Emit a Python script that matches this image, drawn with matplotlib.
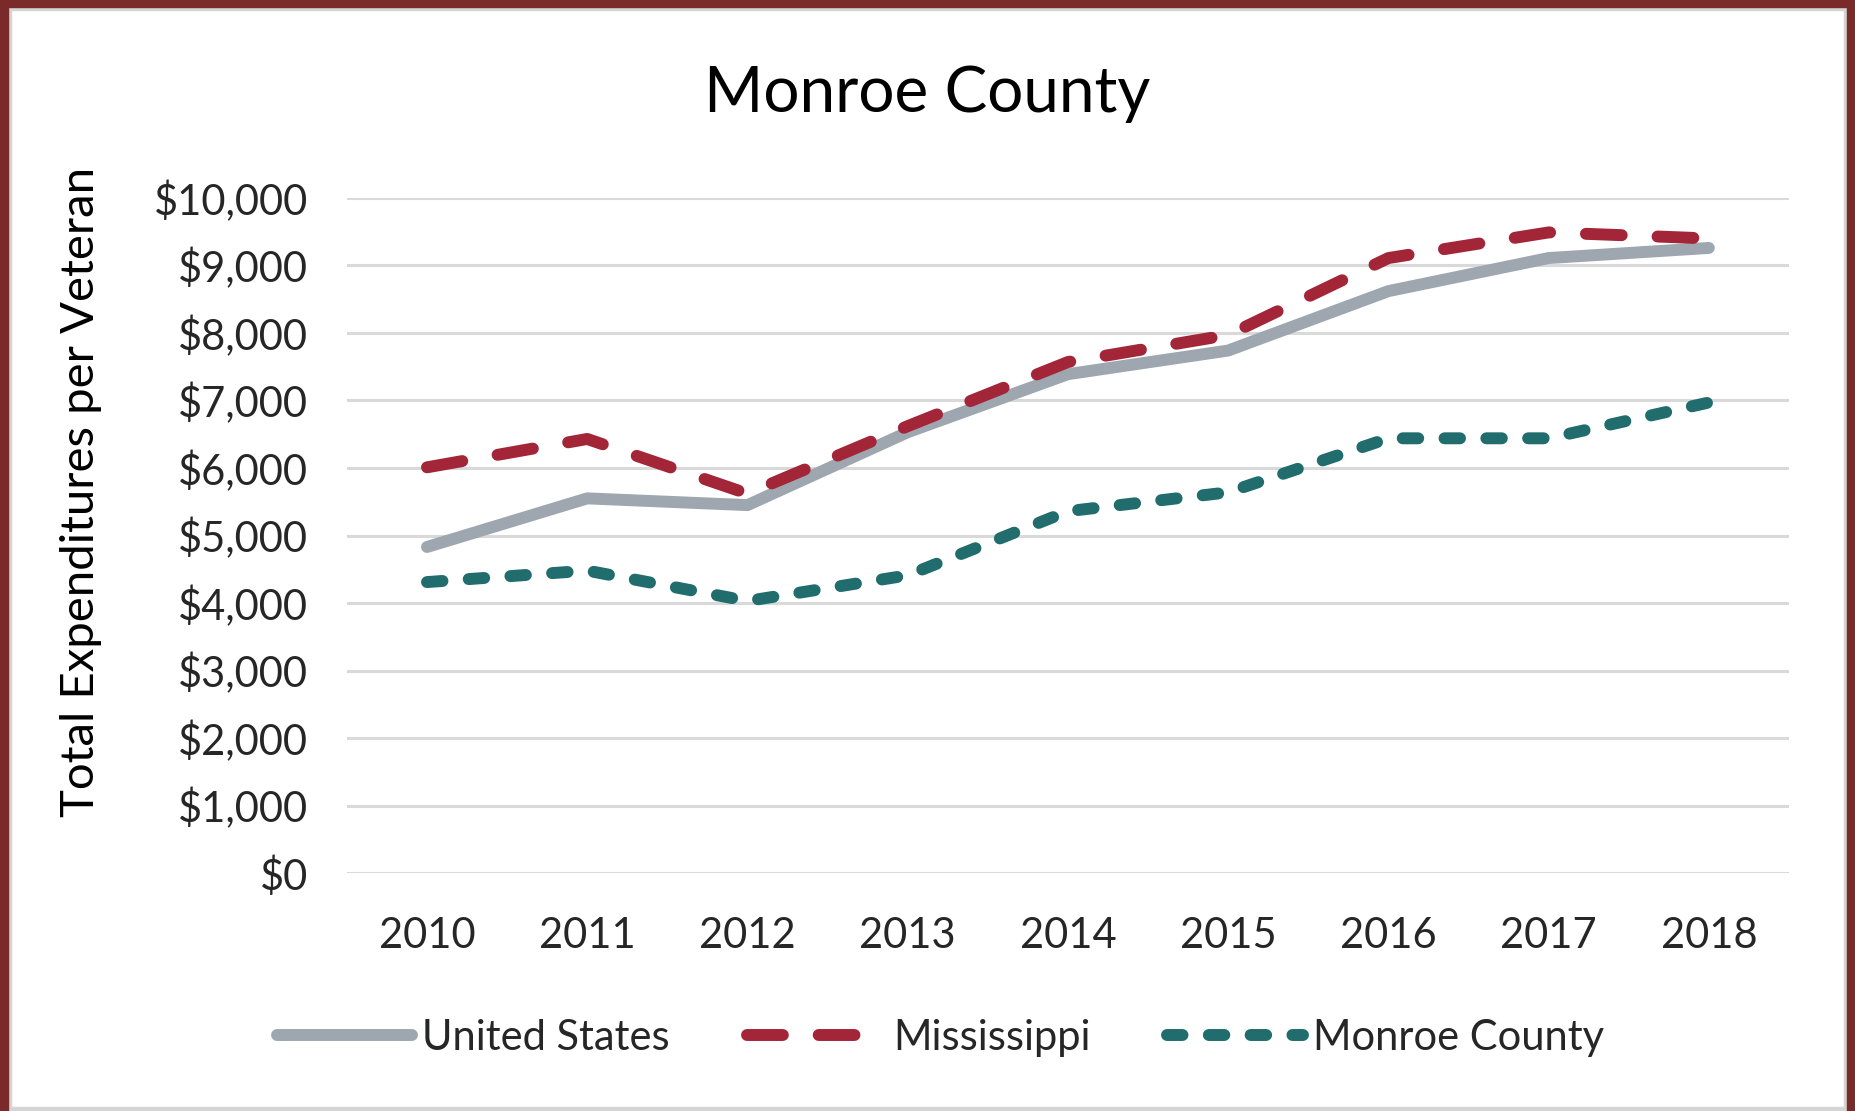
import numpy as np
import matplotlib
matplotlib.use('Agg')
import matplotlib.pyplot as plt
from matplotlib.patches import Rectangle
from matplotlib.ticker import FuncFormatter

plt.rcParams['font.family'] = ['Lato', 'DejaVu Sans']

years = ['2010', '2011', '2012', '2013', '2014', '2015', '2016', '2017', '2018']
united_states = [4830, 5550, 5450, 6530, 7390, 7740, 8620, 9110, 9260]
mississippi = [6010, 6430, 5620, 6620, 7570, 7970, 9110, 9490, 9400]
monroe_county = [4310, 4480, 4030, 4410, 5360, 5640, 6440, 6440, 6970]

fig = plt.figure(figsize=(18.55, 11.11), dpi=100)
ax = fig.add_axes([0.187, 0.2142, 0.7774, 0.6076])

x = np.arange(len(years))
ax.plot(x, united_states, color='#9ea6b0', lw=8.6, solid_capstyle='round',
        solid_joinstyle='round', label='United States', zorder=3)
ax.plot(x, mississippi, color='#a32638', lw=8.6, dashes=(3, 3),
        dash_capstyle='round', dash_joinstyle='round', label='Mississippi', zorder=4)
ax.plot(x, monroe_county, color='#216c6d', lw=8.6, dashes=(1.3, 2.2),
        dash_capstyle='round', dash_joinstyle='round', label='Monroe County', zorder=4)

ax.set_xlim(-0.5, len(years) - 0.5)
ax.set_ylim(0, 10000)
ax.set_yticks(np.arange(0, 10001, 1000))
ax.yaxis.set_major_formatter(FuncFormatter(lambda v, p: '${:,.0f}'.format(v)))
ax.set_xticks(x)
ax.set_xticklabels(years)
ax.tick_params(axis='both', length=0, labelsize=30, colors='#262626')
ax.tick_params(axis='x', pad=32)
ax.tick_params(axis='y', pad=28)
ax.grid(axis='y', color='#d9d9d9', lw=2.2, zorder=0)
ax.set_axisbelow(True)
for s in ax.spines.values():
    s.set_visible(False)

ax.set_ylabel('Total Expenditures per Veteran', fontsize=34, color='#000000')
ax.yaxis.set_label_coords(-0.17, 0.565)
fig.text(0.5, 0.915, 'Monroe County', fontsize=46, ha='center', va='center', color='#000000')

leg = fig.legend(loc='center', bbox_to_anchor=(0.507, 0.066), ncol=3, frameon=False,
                 fontsize=30, handlelength=3.25, handletextpad=0.25, columnspacing=1.85)
for t in leg.get_texts():
    t.set_color('#262626')

# outer frame
red = '#7b2a2a'
fig.patches.append(Rectangle((0, 0), 0.0045, 1, transform=fig.transFigure, color=red, zorder=10))
fig.patches.append(Rectangle((0.9957, 0), 0.0043, 1, transform=fig.transFigure, color=red, zorder=10))
fig.patches.append(Rectangle((0, 0.9937), 1, 0.0063, transform=fig.transFigure, color=red, zorder=10))
fig.patches.append(Rectangle((0.0045, 0), 0.9912, 0.0035, transform=fig.transFigure, color='#d4d4d4', zorder=9))
fig.patches.append(Rectangle((0.0045, 0), 0.0015, 0.9937, transform=fig.transFigure, color='#d4d4d4', zorder=9))
fig.patches.append(Rectangle((0.9942, 0), 0.0015, 0.9937, transform=fig.transFigure, color='#d4d4d4', zorder=9))
fig.patches.append(Rectangle((0.0045, 0.9912), 0.9912, 0.0025, transform=fig.transFigure, color='#d4d4d4', zorder=9))

plt.savefig('out.png', dpi=100)
